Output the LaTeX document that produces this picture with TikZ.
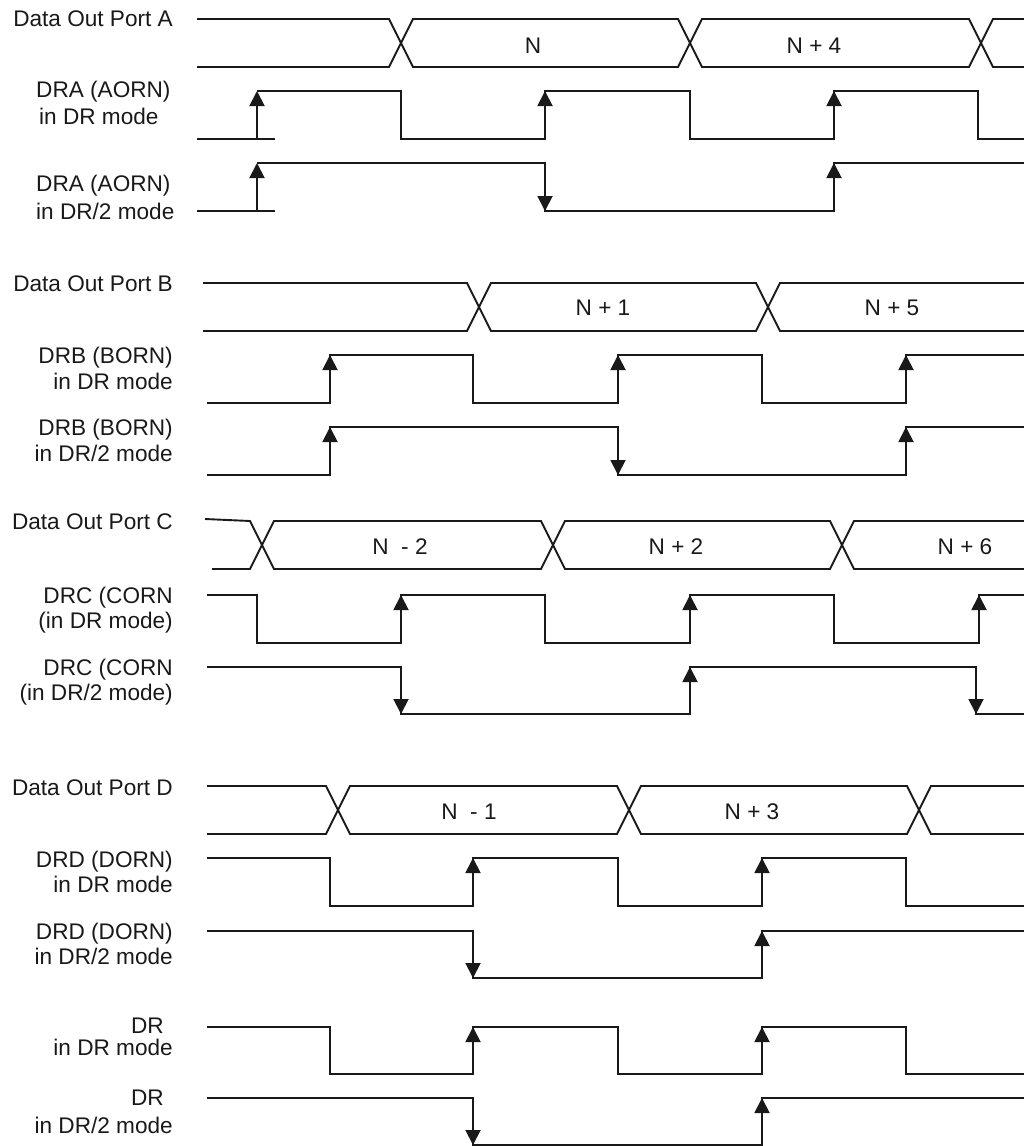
\documentclass[tikz,border=0pt]{standalone}
\usepackage{fontspec}
\setmainfont{Liberation Sans}
\usetikzlibrary{arrows.meta}
\tikzset{
  sig/.style={line width=1.9pt, line join=miter, color=black!90},
  up/.style={sig, -{Triangle[width=15pt,length=15pt]}},
  lbl/.style={font=\fontsize{22.6}{26}\selectfont, inner sep=0pt, anchor=base east, text=black!90},
  lblw/.style={lbl, anchor=base west},
  val/.style={font=\fontsize{22.6}{26}\selectfont, inner sep=0pt, anchor=base, text=black!90}
}
\begin{document}
\begin{tikzpicture}[x=1pt,y=-1pt]
\useasboundingbox (0,0) rectangle (1024,1146);
% ---------- labels ----------
\node[lbl] (la) at (173,26) {Data Out Port A};
\node[lblw] (la1) at (36,97) {DRA (AORN)};
\node[lblw] (la2) at (39,124) {in DR mode};
\node[lblw] (la3) at (36,191) {DRA (AORN)};
\node[lblw] (la4) at (36,219) {in DR/2 mode};
\node[lbl] (lb) at (173,291) {Data Out Port B};
\node[lbl] (lb1) at (173,363) {DRB (BORN)};
\node[lbl] (lb2) at (173,389) {in DR mode};
\node[lbl] (lb3) at (173,435) {DRB (BORN)};
\node[lbl] (lb4) at (173,461) {in DR/2 mode};
\node[lbl] (lc) at (173,529) {Data Out Port C};
\node[lbl] (lc1) at (173,603) {DRC (CORN};
\node[lbl] (lc2) at (173,628) {(in DR mode)};
\node[lbl] (lc3) at (173,675) {DRC (CORN};
\node[lbl] (lc4) at (173,700) {(in DR/2 mode)};
\node[lbl] (ld) at (173,795) {Data Out Port D};
\node[lbl] (ld1) at (173,867) {DRD (DORN)};
\node[lbl] (ld2) at (173,892) {in DR mode};
\node[lbl] (ld3) at (173,939) {DRD (DORN)};
\node[lbl] (ld4) at (173,964) {in DR/2 mode};
\node[lbl] (le1) at (164,1033) {DR};
\node[lbl] (le2) at (173,1055) {in DR mode};
\node[lbl] (le3) at (164,1105) {DR};
\node[lbl] (le4) at (173,1133) {in DR/2 mode};
% ---------- bus A ----------
\draw[sig] (197,19)--(389,19)--(413,67)--(678,67)--(702,19)--(969,19)--(993,67)--(1024,67);
\draw[sig] (197,67)--(389,67)--(413,19)--(678,19)--(702,67)--(969,67)--(993,19)--(1024,19);
\node[val] (va1) at (533,53) {N};
\node[val] (va2) at (814,53) {N + 4};
% DRA DR
\draw[sig] (197,139)--(275,139);
\draw[sig] (257,91)--(401,91)--(401,139)--(545,139)--(545,91)--(690,91)--(690,139)--(834,139)--(834,91)--(978,91)--(978,139)--(1024,139);
\draw[up] (257,139)--(257,91);
\draw[up] (545,139)--(545,91);
\draw[up] (834,139)--(834,91);
% DRA DR/2
\draw[sig] (197,211)--(275,211);
\draw[sig] (257,163)--(545,163)--(545,211)--(834,211)--(834,163)--(1024,163);
\draw[up] (257,211)--(257,163);
\draw[up] (545,163)--(545,211);
\draw[up] (834,211)--(834,163);
% ---------- bus B ----------
\draw[sig] (203,283)--(467,283)--(491,331)--(756,331)--(780,283)--(1024,283);
\draw[sig] (203,331)--(467,331)--(491,283)--(756,283)--(780,331)--(1024,331);
\node[val] (vb1) at (603,315) {N + 1};
\node[val] (vb2) at (892,315) {N + 5};
% DRB DR
\draw[sig] (207,403)--(330,403)--(330,355)--(473,355)--(473,403)--(618,403)--(618,355)--(762,355)--(762,403)--(906,403)--(906,355)--(1024,355);
\draw[up] (330,403)--(330,355);
\draw[up] (618,403)--(618,355);
\draw[up] (906,403)--(906,355);
% DRB DR/2
\draw[sig] (207,475)--(330,475)--(330,427)--(618,427)--(618,475)--(906,475)--(906,427)--(1024,427);
\draw[up] (330,475)--(330,427);
\draw[up] (618,427)--(618,475);
\draw[up] (906,475)--(906,427);
% ---------- bus C ----------
\draw[sig] (205,519)--(250,521)--(274,569)--(541,569)--(565,521)--(830,521)--(854,569)--(1024,569);
\draw[sig] (212,569)--(250,569)--(274,521)--(541,521)--(565,569)--(830,569)--(854,521)--(1024,521);
\node[val] (vc1) at (400,554) {N~~- 2};
\node[val] (vc2) at (676,554) {N + 2};
\node[val] (vc3) at (965,554) {N + 6};
% DRC DR
\draw[sig] (207,595)--(257,595)--(257,643)--(401,643)--(401,595)--(545,595)--(545,643)--(690,643)--(690,595)--(834,595)--(834,643)--(979,643)--(979,595)--(1024,595);
\draw[up] (401,643)--(401,595);
\draw[up] (690,643)--(690,595);
\draw[up] (979,643)--(979,595);
% DRC DR/2
\draw[sig] (207,667)--(401,667)--(401,714)--(690,714)--(690,667)--(976,667)--(976,714)--(1024,714);
\draw[up] (401,667)--(401,714);
\draw[up] (690,714)--(690,667);
\draw[up] (976,667)--(976,714);
% ---------- bus D ----------
\draw[sig] (207,786)--(326,786)--(350,834)--(617,834)--(641,786)--(907,786)--(931,834)--(1024,834);
\draw[sig] (207,834)--(326,834)--(350,786)--(617,786)--(641,834)--(907,834)--(931,786)--(1024,786);
\node[val] (vd1) at (469,819) {N~~- 1};
\node[val] (vd2) at (752,819) {N + 3};
% DRD DR
\draw[sig] (207,858)--(330,858)--(330,906)--(473,906)--(473,858)--(618,858)--(618,906)--(762,906)--(762,858)--(906,858)--(906,906)--(1024,906);
\draw[up] (473,906)--(473,858);
\draw[up] (762,906)--(762,858);
% DRD DR/2
\draw[sig] (207,931)--(473,931)--(473,978)--(762,978)--(762,931)--(1024,931);
\draw[up] (473,931)--(473,978);
\draw[up] (762,978)--(762,931);
% ---------- DR ----------
\draw[sig] (207,1027)--(330,1027)--(330,1074)--(473,1074)--(473,1027)--(618,1027)--(618,1074)--(762,1074)--(762,1027)--(906,1027)--(906,1074)--(1024,1074);
\draw[up] (473,1074)--(473,1027);
\draw[up] (762,1074)--(762,1027);
\draw[sig] (207,1098)--(473,1098)--(473,1145)--(762,1145)--(762,1098)--(1024,1098);
\draw[up] (473,1098)--(473,1145);
\draw[up] (762,1145)--(762,1098);
\end{tikzpicture}
\end{document}
